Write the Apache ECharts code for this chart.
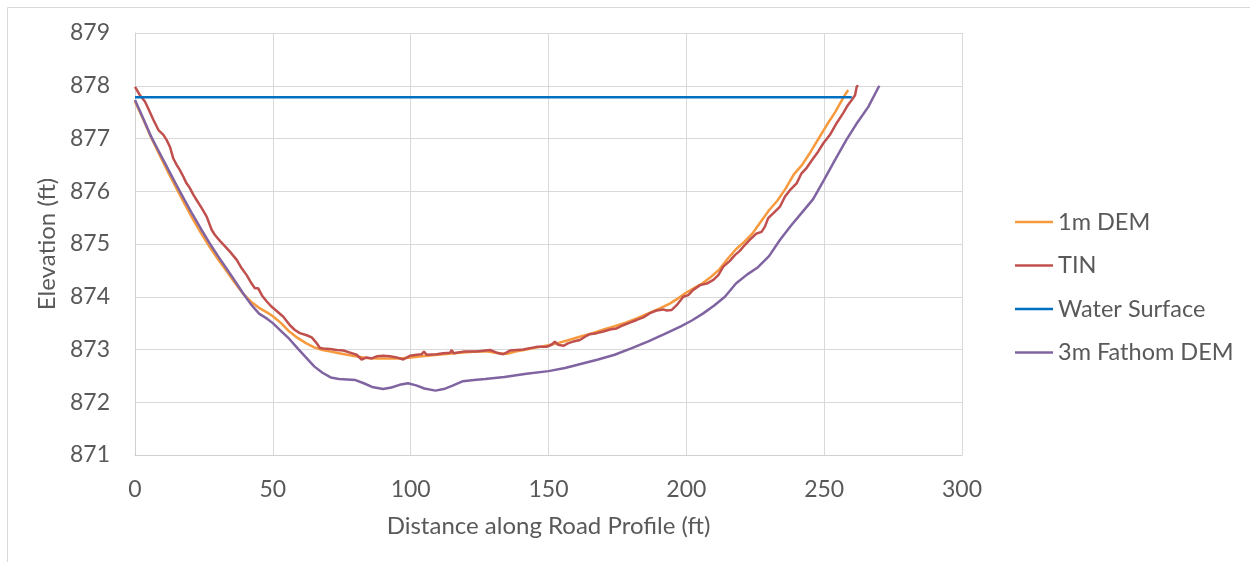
<!DOCTYPE html>
<html>
<head>
<meta charset="utf-8">
<script src="https://cdn.jsdelivr.net/npm/echarts@6/dist/echarts.min.js"></script>
<style>html,body{margin:0;padding:0;background:#fff}#c{width:1250px;height:562px}</style>
</head>
<body>
<div id="c"></div>
<script>
// ---- data (distance ft, elevation ft) ----
const seriesNames = ['1m DEM', 'TIN', 'Water Surface', '3m Fathom DEM'];
const xTicks = [0, 50, 100, 150, 200, 250, 300];
const yTicks = [871, 872, 873, 874, 875, 876, 877, 878, 879];

const dem1m = [[0,877.7],[3,877.36],[6,877.0],[9,876.68],[12,876.36],[15,876.06],[18,875.76],[21,875.47],[24,875.2],[27,874.95],[30,874.72],[33,874.5],[36,874.28],[39,874.07],[42,873.91],[45,873.79],[48,873.7],[50,873.63],[53,873.5],[56,873.34],[59,873.22],[62,873.12],[65,873.04],[68,872.99],[71,872.96],[74,872.93],[77,872.9],[80,872.87],[84,872.84],[88,872.83],[92,872.83],[96,872.83],[100,872.85],[104,872.87],[108,872.89],[112,872.91],[116,872.93],[120,872.95],[124,872.96],[128,872.96],[132,872.93],[135,872.92],[138,872.96],[142,873.0],[146,873.04],[150,873.08],[154,873.13],[158,873.19],[162,873.25],[166,873.31],[170,873.38],[174,873.44],[178,873.51],[182,873.59],[186,873.68],[190,873.77],[194,873.87],[197,873.97],[200,874.08],[203,874.17],[206,874.26],[209,874.38],[212,874.52],[215,874.72],[218,874.9],[221,875.04],[224,875.2],[227,875.42],[230,875.64],[233,875.82],[236,876.05],[239,876.32],[242,876.5],[245,876.74],[248,877.0],[251,877.26],[254,877.5],[257,877.78],[258.7,877.92]];

const tin = [[0,877.98],[1.8,877.82],[3.6,877.7],[4.8,877.57],[6.7,877.35],[8.5,877.16],[10.3,877.07],[11.5,876.97],[12.7,876.84],[13.9,876.62],[15.1,876.5],[16.3,876.4],[17.5,876.28],[18.7,876.15],[19.9,876.06],[21.2,875.93],[22.4,875.83],[24.2,875.68],[26,875.52],[27.8,875.27],[29,875.17],[30.8,875.06],[32.6,874.96],[34.5,874.85],[36.9,874.7],[38.7,874.54],[40.5,874.41],[42.3,874.25],[43.5,874.16],[44.7,874.16],[46,874.03],[47.8,873.91],[49.6,873.81],[51.4,873.73],[53.8,873.62],[56.2,873.46],[58,873.37],[59.8,873.31],[62.3,873.27],[64.1,873.23],[65.9,873.12],[67.1,873.03],[68.3,873.02],[70.7,873.01],[73.2,872.99],[75.6,872.98],[78,872.94],[80.4,872.9],[82.2,872.81],[84,872.85],[85.9,872.83],[87.7,872.87],[90.1,872.88],[92.5,872.87],[94.9,872.85],[97.3,872.81],[99.7,872.88],[102.2,872.9],[104,872.91],[104.8,872.96],[105.8,872.9],[109.4,872.91],[111.8,872.93],[114.3,872.94],[114.9,872.99],[115.5,872.93],[119.1,872.96],[123.9,872.96],[128.8,872.99],[131.2,872.94],[133.6,872.91],[136,872.98],[140.8,873.0],[145.7,873.05],[149.3,873.05],[151.1,873.09],[152.3,873.15],[153.5,873.09],[155.4,873.07],[157.2,873.12],[159,873.15],[161.4,873.18],[163.8,873.26],[165,873.29],[167.5,873.31],[169.9,873.34],[172.3,873.38],[174.7,873.4],[177.1,873.46],[179.5,873.51],[182,873.56],[184.4,873.61],[186.8,873.69],[189.2,873.74],[191.6,873.76],[192.9,873.74],[194.7,873.75],[196.5,873.84],[198.9,874.0],[200.7,874.03],[202.5,874.13],[205,874.22],[207.4,874.25],[209.8,874.32],[211.6,874.41],[213.4,874.57],[215.8,874.68],[217.6,874.79],[219.4,874.87],[221.2,874.98],[223,875.08],[225.5,875.2],[227.3,875.23],[228.5,875.33],[229.7,875.49],[231.5,875.58],[234,875.71],[235.8,875.9],[237.6,876.02],[240,876.15],[241.8,876.34],[243.6,876.44],[246,876.62],[247.8,876.75],[249.7,876.91],[252.1,877.07],[254.5,877.29],[256.9,877.48],[258.7,877.64],[260,877.73],[261.2,877.82],[261.8,877.98],[262.3,878.01]];

const waterSurface = [[0,877.78],[260,877.78]];

const fathom3m = [[0,877.73],[3,877.38],[6,877.02],[9,876.72],[12,876.42],[15,876.12],[18,875.83],[21,875.55],[24,875.28],[27,875.02],[30,874.78],[33,874.55],[36,874.32],[39,874.08],[42,873.86],[45,873.68],[48,873.58],[50,873.5],[53,873.35],[56,873.2],[59,873.02],[62,872.85],[65,872.68],[68,872.56],[71,872.47],[74,872.44],[77,872.43],[80,872.42],[83,872.36],[86,872.29],[90,872.25],[93,872.28],[96,872.33],[99,872.36],[102,872.32],[105,872.26],[109,872.22],[112,872.25],[115,872.31],[119,872.4],[123,872.42],[127,872.44],[134,872.48],[142,872.54],[150,872.59],[156,872.65],[162,872.73],[168,872.81],[174,872.9],[180,873.02],[186,873.15],[192,873.29],[198,873.44],[202,873.55],[206,873.68],[210,873.83],[214,874.0],[218,874.25],[222,874.42],[226,874.56],[230,874.77],[234,875.08],[238,875.35],[242,875.6],[246,875.85],[250,876.22],[254,876.6],[258,876.97],[262,877.3],[266,877.6],[270,878.0]];

const colors = ['#F79A3E', '#C0504D', '#0070C0', '#8064A2'];
const FONT = 'Lato';
const TXT = '#595959';

const chart = echarts.init(document.getElementById('c'), null, {renderer: 'canvas'});
const mk = (name, data, color) => ({
  name, type: 'line', data, smooth: false, symbol: 'none', showSymbol: false,
  lineStyle: {color, width: 2.5}, itemStyle: {color}, animation: false
});
chart.setOption({
  animation: false,
  color: colors,
  graphic: [{type: 'rect', shape: {x: 7.5, y: 7.5, width: 1400, height: 800}, style: {fill: 'none', stroke: '#d9d9d9', lineWidth: 1}, silent: true}],
  grid: {left: 135, top: 33, right: 288, bottom: 107, containLabel: false},
  xAxis: {
    type: 'value', min: xTicks[0], max: xTicks[xTicks.length - 1], interval: 50,
    name: 'Distance along Road Profile (ft)', nameLocation: 'middle', nameGap: 59,
    nameTextStyle: {fontFamily: FONT, fontSize: 24, color: TXT},
    axisLine: {lineStyle: {color: '#d0d0d0', width: 1}}, axisTick: {show: false},
    axisLabel: {fontFamily: FONT, fontSize: 23, color: TXT, margin: 23},
    splitLine: {show: true, lineStyle: {color: '#d9d9d9', width: 1}}
  },
  yAxis: {
    type: 'value', min: yTicks[0], max: yTicks[yTicks.length - 1], interval: 1,
    name: 'Elevation (ft)', nameLocation: 'middle', nameGap: 74,
    nameTextStyle: {fontFamily: FONT, fontSize: 24, color: TXT},
    axisLine: {show: true, lineStyle: {color: '#d0d0d0', width: 1}}, axisTick: {show: false},
    axisLabel: {fontFamily: FONT, fontSize: 23, color: TXT, margin: 25},
    splitLine: {show: true, lineStyle: {color: '#d9d9d9', width: 1}}
  },
  legend: {
    orient: 'vertical', left: 1010, top: 205, icon: 'rect', itemWidth: 38, itemHeight: 2.5, itemGap: 19.5, itemTextGap: 5,
    textStyle: {fontFamily: FONT, fontSize: 23.5, color: TXT, lineHeight: 24},
    data: seriesNames
  },
  series: [
    mk(seriesNames[0], dem1m, colors[0]),
    mk(seriesNames[1], tin, colors[1]),
    mk(seriesNames[2], waterSurface, colors[2]),
    mk(seriesNames[3], fathom3m, colors[3])
  ]
});
</script>
</body>
</html>
